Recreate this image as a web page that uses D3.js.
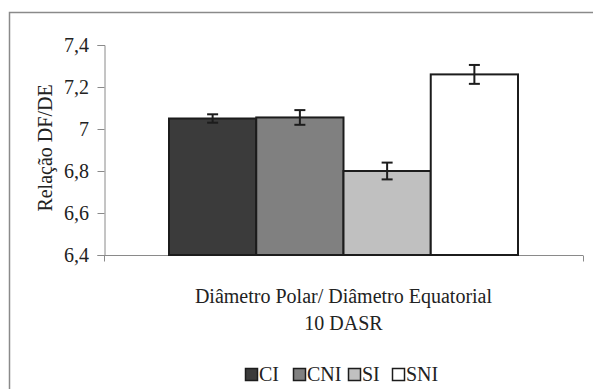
<!DOCTYPE html>
<html>
<head>
<meta charset="utf-8">
<script src="https://cdn.jsdelivr.net/npm/d3@7"></script>
</head>
<body style="margin:0">
<svg id="s" width="593" height="389"></svg>
<script>
// Data: ratio of polar to equatorial diameter, 10 DASR
const categories = ["Diâmetro Polar/ Diâmetro Equatorial"];
const series = ["CI", "CNI", "SI", "SNI"];
const values = [7.05, 7.055, 6.80, 7.26];
const errors = [0.02, 0.035, 0.04, 0.045];
const yTicks = [6.4, 6.6, 6.8, 7.0, 7.2, 7.4];
const yTickLabels = ["6,4", "6,6", "6,8", "7", "7,2", "7,4"];
const fills = ["#3b3b3b", "#808080", "#c0c0c0", "#ffffff"];

const svg = d3.select("#s");
const ink = "#1c1c1c";
const axisGrey = "#8a8a8a";
const serif = `"Liberation Serif"`;
const fontSize = 20;

// outer frame (top and left edges)
svg.append("path")
  .attr("d", "M9.5,389 V12.5 H593")
  .attr("fill", "none").attr("stroke", axisGrey).attr("stroke-width", 1.5);

const plot = { left: 104, right: 583, top: 45, bottom: 255 };

const y = d3.scaleLinear().domain([6.4, 7.4]).range([plot.bottom, plot.top]);
const x0 = d3.scaleBand().domain(categories).range([plot.left, plot.right]).padding(0);
const x1 = d3.scaleBand().domain(series).range([0, x0.bandwidth()])
  .paddingInner(0).paddingOuter(0.745);

// y axis: ticks and grey domain line; labels drawn as plain text
const gy = svg.append("g").attr("transform", `translate(${plot.left + 0.5},0)`)
  .call(d3.axisLeft(y).tickValues(yTicks).tickFormat("").tickSizeOuter(0).tickSize(7));
gy.select(".domain").attr("stroke", axisGrey);
gy.selectAll(".tick line").attr("stroke", axisGrey);
yTicks.forEach((t, i) => {
  svg.append("text").attr("x", 89).attr("y", y(t) + 7)
    .attr("text-anchor", "end").attr("font-size", fontSize)
    .attr("font-family", serif).attr("fill", "#222")
    .text(yTickLabels[i]);
});

// x axis baseline with end ticks
const gx = svg.append("g").attr("transform", `translate(0,${plot.bottom + 0.5})`);
gx.append("line").attr("x1", plot.left).attr("x2", plot.right)
  .attr("stroke", axisGrey);
[plot.left, plot.right].forEach(px => {
  gx.append("line").attr("x1", px + 0.5).attr("x2", px + 0.5).attr("y1", 0).attr("y2", 6)
    .attr("stroke", axisGrey);
});

// bars
const g = svg.append("g");
const rows = series.map((s, i) => ({ s, v: values[i], e: errors[i], fill: fills[i] }));
categories.forEach(cat => {
  const gc = g.append("g").attr("transform", `translate(${x0(cat)},0)`);
  gc.selectAll("rect").data(rows).join("rect")
    .attr("x", d => x1(d.s))
    .attr("y", d => y(d.v))
    .attr("width", x1.bandwidth())
    .attr("height", d => y(6.4) - y(d.v))
    .attr("fill", d => d.fill)
    .attr("stroke", ink).attr("stroke-width", 2);

  // error bars
  const cap = 5.5;
  const cx = d => x1(d.s) + x1.bandwidth() / 2;
  const eb = gc.selectAll("g.err").data(rows).join("g").attr("class", "err")
    .attr("stroke", ink).attr("stroke-width", 2);
  eb.append("line")
    .attr("x1", cx).attr("x2", cx)
    .attr("y1", d => y(d.v + d.e)).attr("y2", d => y(d.v - d.e));
  eb.append("line")
    .attr("x1", d => cx(d) - cap).attr("x2", d => cx(d) + cap)
    .attr("y1", d => y(d.v + d.e)).attr("y2", d => y(d.v + d.e));
  eb.append("line")
    .attr("x1", d => cx(d) - cap).attr("x2", d => cx(d) + cap)
    .attr("y1", d => y(d.v - d.e)).attr("y2", d => y(d.v - d.e));
});

// axis titles
svg.append("text")
  .attr("transform", `translate(52,148) rotate(-90)`)
  .attr("text-anchor", "middle").attr("fill", "#222")
  .attr("font-family", serif).attr("font-size", fontSize)
  .text("Relação DF/DE");

const cxTitle = (plot.left + plot.right) / 2;
svg.append("text").attr("x", cxTitle).attr("y", 303)
  .attr("text-anchor", "middle").attr("fill", "#222")
  .attr("font-family", serif).attr("font-size", fontSize)
  .text(categories[0]);
svg.append("text").attr("x", cxTitle).attr("y", 330)
  .attr("text-anchor", "middle").attr("fill", "#222")
  .attr("font-family", serif).attr("font-size", fontSize)
  .text("10 DASR");

// legend
const legendX = [245, 293, 348, 392];
series.forEach((s, i) => {
  svg.append("rect").attr("x", legendX[i] + 0.5).attr("y", 368.5).attr("width", 12).attr("height", 12)
    .attr("fill", fills[i]).attr("stroke", ink).attr("stroke-width", 1.5);
  svg.append("text").attr("x", legendX[i] + 14).attr("y", 381)
    .attr("fill", "#222").attr("font-family", serif).attr("font-size", fontSize).text(s);
});
</script>
</body>
</html>
